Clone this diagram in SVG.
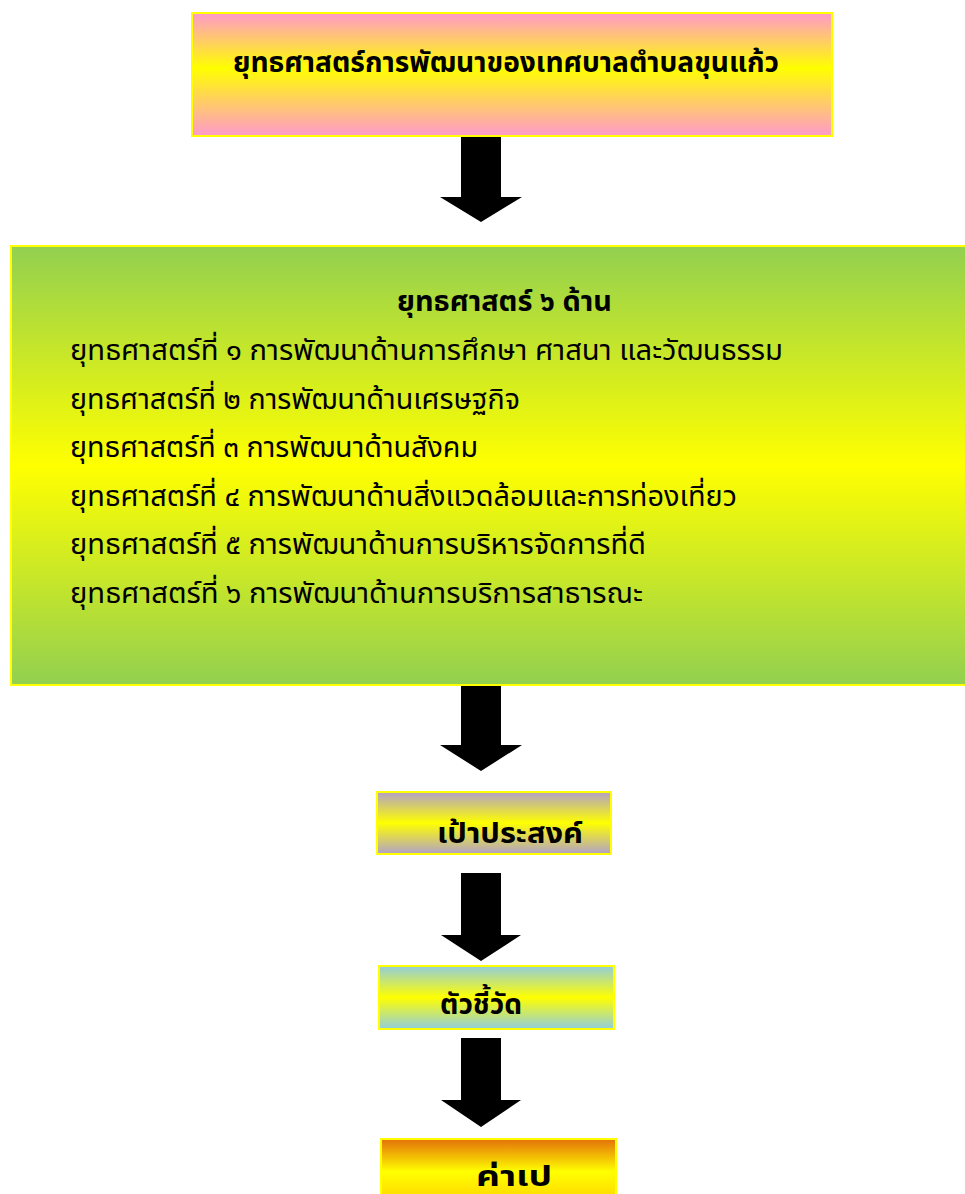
<svg xmlns="http://www.w3.org/2000/svg" width="965" height="1194" viewBox="0 0 965 1194">
<style>
.box{stroke:#FFFF00;stroke-width:2}
.t{font-family:"Noto Sans","Noto Sans Thai","DejaVu Sans",sans-serif;fill:#000}
.b{font-weight:bold;font-size:29px}
.r{font-size:28px}
.arrow{fill:#000}
</style>
<defs>
<linearGradient id="gPink" x1="0" y1="0" x2="0" y2="1">
<stop offset="0" stop-color="#FF99CC"/><stop offset="0.45" stop-color="#FFFF00"/><stop offset="1" stop-color="#FF99CC"/>
</linearGradient>
<linearGradient id="gGreen" x1="0" y1="0" x2="0" y2="1">
<stop offset="0" stop-color="#92D050"/><stop offset="0.5" stop-color="#FFFF00"/><stop offset="1" stop-color="#92D050"/>
</linearGradient>
<linearGradient id="gPurple" x1="0" y1="0" x2="0" y2="1">
<stop offset="0" stop-color="#B2A1C7"/><stop offset="0.5" stop-color="#FFFF00"/><stop offset="1" stop-color="#B2A1C7"/>
</linearGradient>
<linearGradient id="gBlue" x1="0" y1="0" x2="0" y2="1">
<stop offset="0" stop-color="#92CDDC"/><stop offset="0.5" stop-color="#FFFF00"/><stop offset="1" stop-color="#92CDDC"/>
</linearGradient>
<linearGradient id="gOrange" x1="0" y1="1138" x2="0" y2="1194" gradientUnits="userSpaceOnUse">
<stop offset="0" stop-color="#E36C09"/><stop offset="0.6" stop-color="#FFFF00"/><stop offset="1" stop-color="#FFE000"/>
</linearGradient>
</defs>

<g id="connectors">
<polygon class="arrow" points="461,137 501,137 501,197 522,197 481,222 440,197 461,197"/>
<polygon class="arrow" points="461,686 501,686 501,745 522,745 481,771 440,745 461,745"/>
<polygon class="arrow" points="461,873 501,873 501,935 521,935 481,961 441,935 461,935"/>
<polygon class="arrow" points="461,1038 501,1038 501,1100 521,1100 481,1127 441,1100 461,1100"/>
</g>

<g id="node-top">
<rect class="box" x="192" y="13" width="640" height="123" fill="url(#gPink)"/>
<text class="t b" x="233" y="72" textLength="546" lengthAdjust="spacingAndGlyphs">ยุทธศาสตร์การพัฒนาของเทศบาลตำบลขุนแก้ว</text>
</g>

<g id="node-strategies">
<rect class="box" x="11" y="246" width="960" height="439" fill="url(#gGreen)"/>
<text class="t b" x="397" y="311" textLength="215" lengthAdjust="spacingAndGlyphs">ยุทธศาสตร์ ๖ ด้าน</text>
<text class="t r" x="70" y="360" textLength="713" lengthAdjust="spacingAndGlyphs">ยุทธศาสตร์ที่ ๑ การพัฒนาด้านการศึกษา ศาสนา และวัฒนธรรม</text>
<text class="t r" x="70" y="409" textLength="450" lengthAdjust="spacingAndGlyphs">ยุทธศาสตร์ที่ ๒ การพัฒนาด้านเศรษฐกิจ</text>
<text class="t r" x="70" y="457" textLength="408" lengthAdjust="spacingAndGlyphs">ยุทธศาสตร์ที่ ๓ การพัฒนาด้านสังคม</text>
<text class="t r" x="70" y="506" textLength="667" lengthAdjust="spacingAndGlyphs">ยุทธศาสตร์ที่ ๔ การพัฒนาด้านสิ่งแวดล้อมและการท่องเที่ยว</text>
<text class="t r" x="70" y="554" textLength="576" lengthAdjust="spacingAndGlyphs">ยุทธศาสตร์ที่ ๕ การพัฒนาด้านการบริหารจัดการที่ดี</text>
<text class="t r" x="70" y="603" textLength="573" lengthAdjust="spacingAndGlyphs">ยุทธศาสตร์ที่ ๖ การพัฒนาด้านการบริการสาธารณะ</text>
</g>

<g id="node-goal">
<rect class="box" x="377" y="792" width="234" height="62" fill="url(#gPurple)"/>
<text class="t b" x="437" y="843" textLength="146" lengthAdjust="spacingAndGlyphs">เป้าประสงค์</text>
</g>

<g id="node-indicator">
<rect class="box" x="379" y="966" width="235" height="63" fill="url(#gBlue)"/>
<text class="t b" x="440" y="1014" textLength="82" lengthAdjust="spacingAndGlyphs">ตัวชี้วัด</text>
</g>

<g id="node-target">
<rect class="box" x="381" y="1139" width="235" height="60" fill="url(#gOrange)"/>
<text class="t b" x="476" y="1186" textLength="76" lengthAdjust="spacingAndGlyphs">ค่าเป</text>
</g>
</svg>
